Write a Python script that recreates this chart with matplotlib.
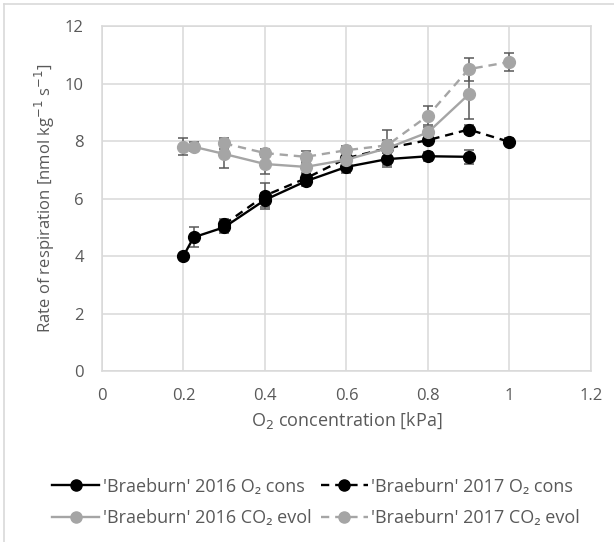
import matplotlib
matplotlib.use("Agg")
import matplotlib.pyplot as plt
from matplotlib.lines import Line2D

# O2 concentration [kPa]
x_2016 = [0.2, 0.225, 0.3, 0.4, 0.5, 0.6, 0.7, 0.8, 0.9]
x_2017 = [0.3, 0.4, 0.5, 0.6, 0.7, 0.8, 0.9, 1.0]

# rate of respiration [nmol kg-1 s-1] and error bars
o2_2016 = [4.0, 4.65, 5.0, 5.95, 6.6, 7.1, 7.37, 7.47, 7.45]
o2_2016_err = [0.05, 0.35, 0.2, 0.25, 0.15, 0.2, 0.2, 0.15, 0.25]
o2_2017 = [5.1, 6.1, 6.7, 7.4, 7.75, 8.03, 8.4, 7.97]
o2_2017_err = [0.2, 0.45, 0.15, 0.2, 0.15, 0.15, 0.15, 0.12]
co2_2016 = [7.8, 7.8, 7.55, 7.2, 7.1, 7.35, 7.75, 8.3, 9.62]
co2_2016_err = [0.3, 0.15, 0.5, 0.35, 0.2, 0.25, 0.65, 0.2, 0.85]
co2_2017 = [7.92, 7.58, 7.45, 7.68, 7.85, 8.88, 10.5, 10.75]
co2_2017_err = [0.2, 0.15, 0.2, 0.15, 0.2, 0.33, 0.4, 0.3]

labels = ["'Braeburn' 2016 O₂ cons", "'Braeburn' 2017 O₂ cons",
          "'Braeburn' 2016 CO₂ evol", "'Braeburn' 2017 CO₂ evol"]

plt.rcParams['font.family'] = ['Open Sans', 'DejaVu Sans']
txt = "#595959"
grid = "#d9d9d9"
grey = "#a5a5a5"

fig = plt.figure(figsize=(6.14, 5.42), dpi=100)
ax = fig.add_axes([0.166, 0.3155, 0.7965, 0.6365])

series = [
    (x_2016, o2_2016, o2_2016_err, "black", "-"),
    (x_2017, o2_2017, o2_2017_err, "black", (0, (3.5, 2.5))),
    (x_2016, co2_2016, co2_2016_err, grey, "-"),
    (x_2017, co2_2017, co2_2017_err, grey, (0, (3.5, 2.5))),
]
for (x, y, e, c, ls), lab in zip(series, labels):
    ax.errorbar(x, y, yerr=e, color=c, ls=ls, lw=1.7, marker="o", ms=8.5,
                ecolor="#595959", elinewidth=1.1, capsize=3.5, capthick=1.1,
                label=lab)

ax.set_xlim(0, 1.2)
ax.set_ylim(0, 12)
ax.set_xticks([0, 0.2, 0.4, 0.6, 0.8, 1.0, 1.2])
ax.set_xticklabels(["0", "0.2", "0.4", "0.6", "0.8", "1", "1.2"])
ax.set_yticks(range(0, 13, 2))
ax.grid(True, color=grid, lw=1.1)
ax.set_axisbelow(True)
for s in ax.spines.values():
    s.set_color(grid)
    s.set_linewidth(1.1)
ax.tick_params(length=0, labelsize=12, colors=txt)
ax.tick_params(axis='y', pad=13)
ax.tick_params(axis='x', pad=12)

ax.set_xlabel("O$_2$ concentration [kPa]", fontsize=13, color=txt, labelpad=5)
ax.set_ylabel("Rate of respiration [nmol kg$^{-1}$ s$^{-1}$]", fontsize=12,
              color=txt, labelpad=6)

# legend is filled column by column, so order the entries for row-wise reading
handles = []
for (x, y, e, c, ls) in series:
    handles.append(Line2D([], [], color=c, ls=ls, lw=1.7, marker="o", ms=8))
order = [0, 2, 1, 3]
fig.legend([handles[i] for i in order], [labels[i] for i in order],
           loc="center", bbox_to_anchor=(0.515, 0.073),
           ncol=2, frameon=False, fontsize=13, labelcolor=txt,
           handlelength=2.6, handletextpad=0.2, columnspacing=0.5,
           labelspacing=0.75)

# outer chart border
fig.add_artist(Line2D([0.006, 0.006], [0, 0.993], color=grid, lw=1.2))
fig.add_artist(Line2D([0.006, 1], [0.993, 0.993], color=grid, lw=1.2))

plt.savefig("out.png", dpi=100)
